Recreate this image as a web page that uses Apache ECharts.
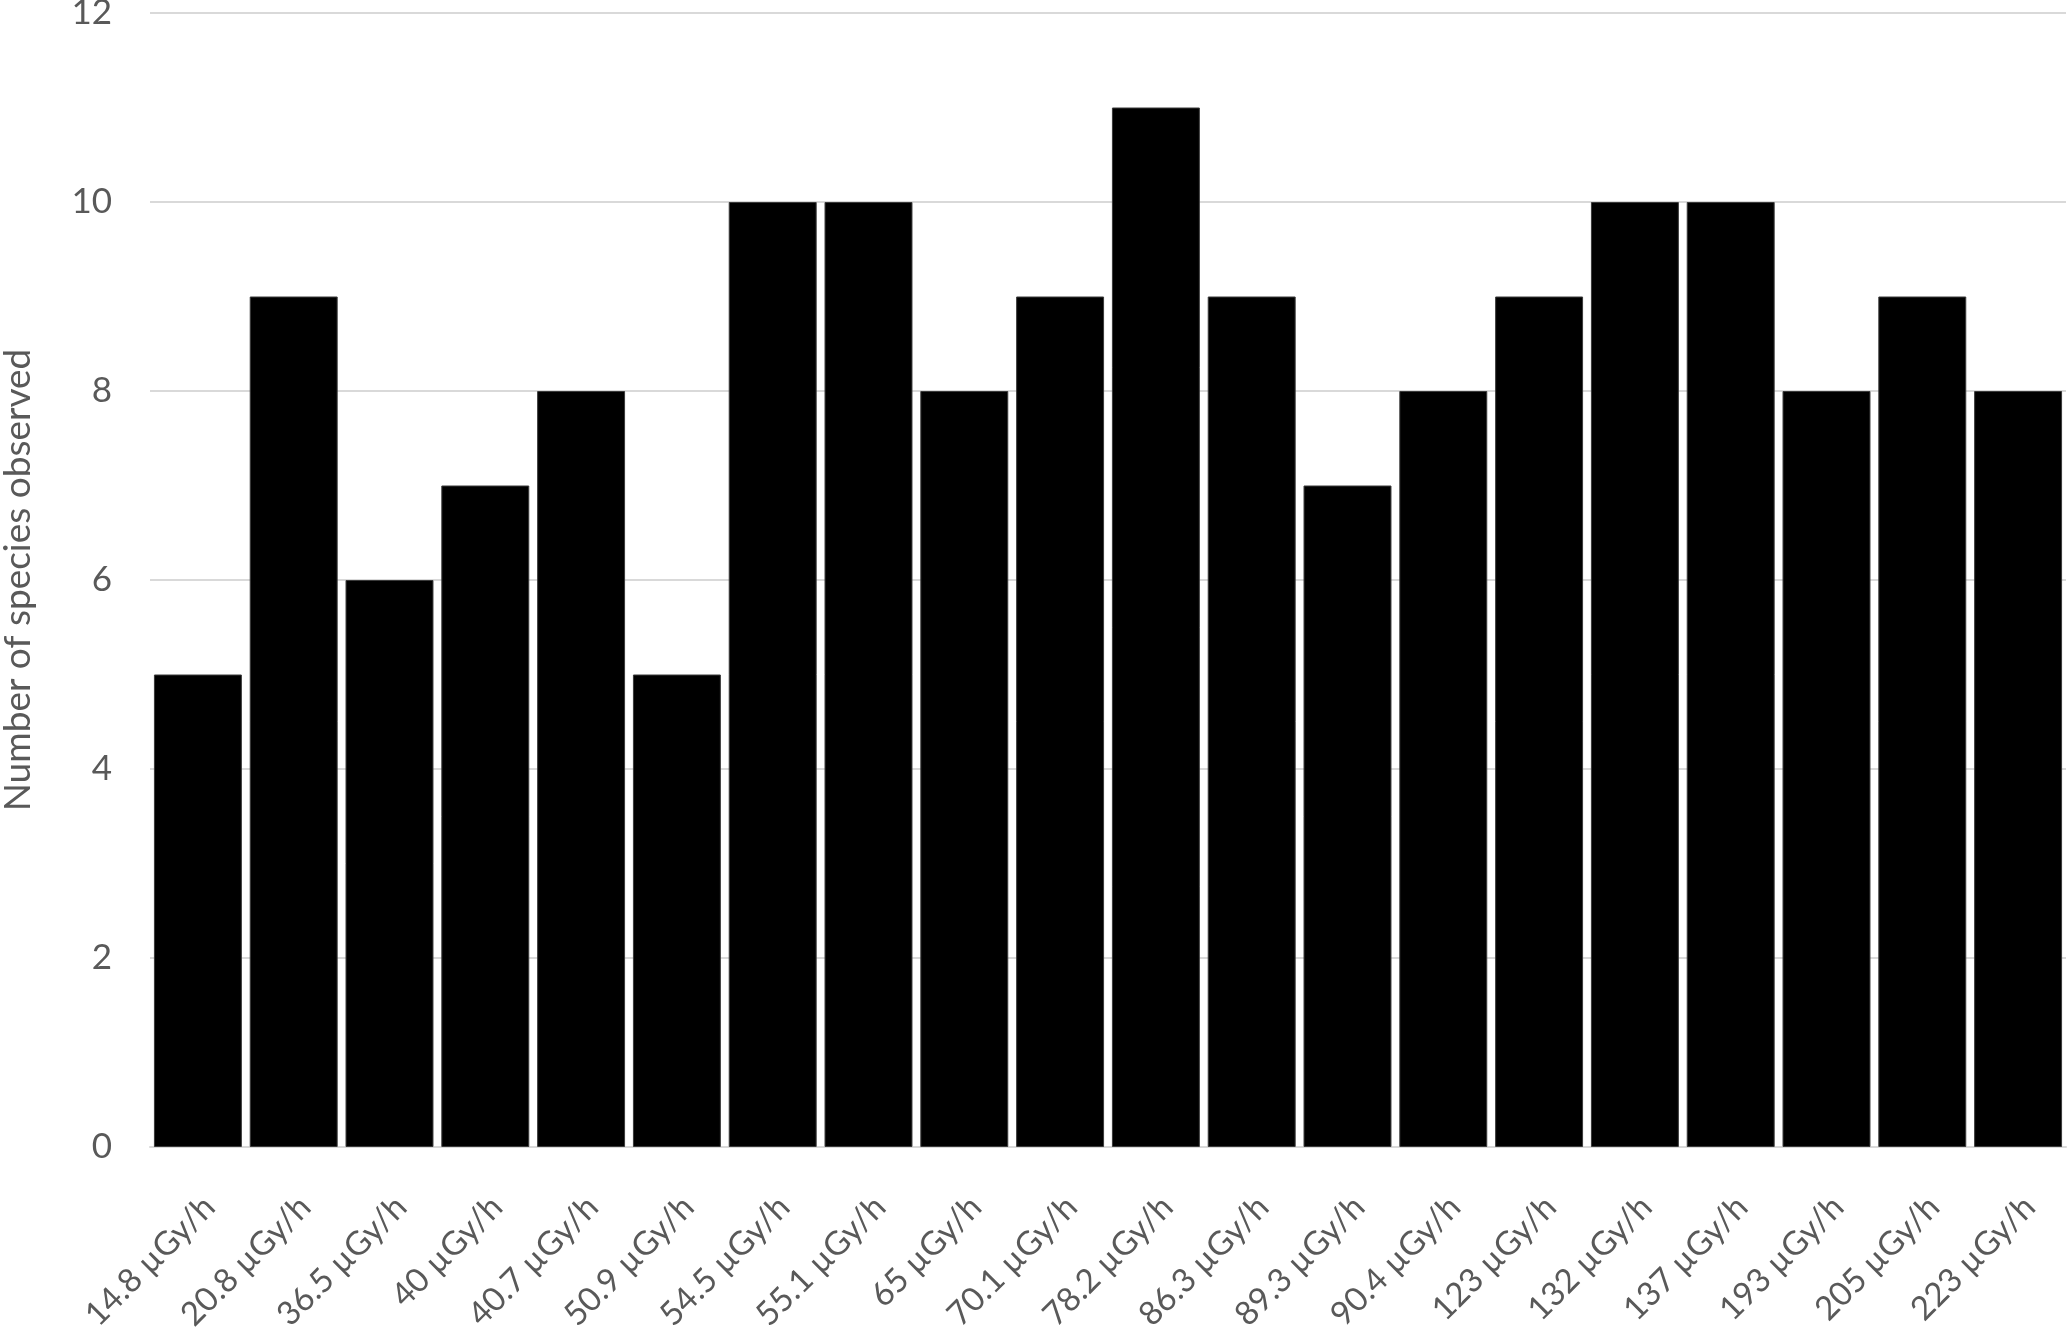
<!DOCTYPE html>
<html><head><meta charset="utf-8">
<script src="https://cdn.jsdelivr.net/npm/echarts@6/dist/echarts.min.js"></script>
<style>html,body{margin:0;padding:0;background:#fff;overflow:hidden}#c{width:2067px;height:1333px}</style>
</head><body><div id="c"></div>
<script>
const categories = ['14.8 µGy/h','20.8 µGy/h','36.5 µGy/h','40 µGy/h','40.7 µGy/h','50.9 µGy/h','54.5 µGy/h','55.1 µGy/h','65 µGy/h','70.1 µGy/h','78.2 µGy/h','86.3 µGy/h','89.3 µGy/h','90.4 µGy/h','123 µGy/h','132 µGy/h','137 µGy/h','193 µGy/h','205 µGy/h','223 µGy/h'];
const speciesCounts = [5,9,6,7,8,5,10,10,8,9,11,9,7,8,9,10,10,8,9,8];
const yTicks = [0,2,4,6,8,10,12];
const yAxisTitle = 'Number of species observed';

const chart = echarts.init(document.getElementById('c'), null, {renderer:'canvas'});
const font = 'Lato';
chart.setOption({
  animation:false,
  backgroundColor:'#ffffff',
  grid:{left:150, right:1, top:13, bottom:186, containLabel:false, outerBoundsMode:'none'},
  xAxis:{
    type:'category', data:categories,
    axisLine:{show:true, lineStyle:{color:'#d9d9d9', width:2}},
    axisTick:{show:false},
    axisLabel:{rotate:45, interval:0, margin:43, verticalAlign:'top', color:'#595959', fontSize:33, fontFamily:font}
  },
  yAxis:{
    type:'value', min:yTicks[0], max:yTicks[yTicks.length-1], interval:2,
    name:yAxisTitle, nameLocation:'middle', nameGap:113,
    nameTextStyle:{color:'#595959', fontSize:37, fontFamily:font},
    axisLine:{show:false}, axisTick:{show:false},
    axisLabel:{margin:38, color:'#595959', fontSize:35, fontFamily:font},
    splitLine:{lineStyle:{color:'#d9d9d9', width:2}}
  },
  series:[{
    type:'bar', data:speciesCounts, barCategoryGap:'8.2%',
    itemStyle:{color:'#000000', borderColor:'#3a3a3a', borderWidth:1}
  }]
});
</script></body></html>
